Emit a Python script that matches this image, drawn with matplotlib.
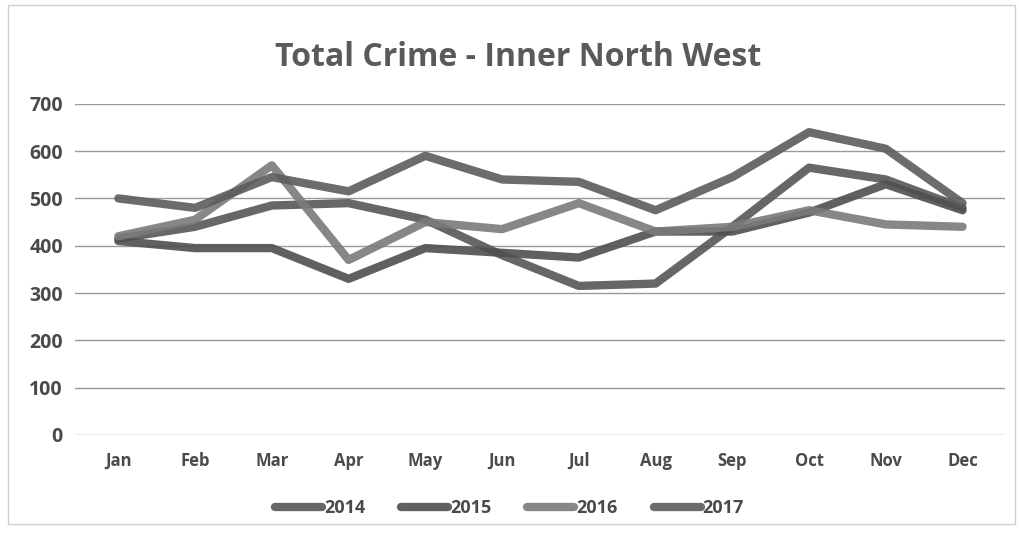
import matplotlib.pyplot as plt
from matplotlib.patches import Rectangle

plt.rcParams['font.family'] = ['Open Sans', 'DejaVu Sans']

# Data
months = ["Jan", "Feb", "Mar", "Apr", "May", "Jun", "Jul", "Aug", "Sep", "Oct", "Nov", "Dec"]
crime_2014 = [415, 440, 485, 490, 455, 380, 315, 320, 440, 565, 540, 480]
crime_2015 = [410, 395, 395, 330, 395, 385, 375, 430, 430, 470, 530, 475]
crime_2016 = [420, 455, 570, 370, 450, 435, 490, 430, 440, 475, 445, 440]
crime_2017 = [500, 480, 545, 515, 590, 540, 535, 475, 545, 640, 605, 490]

series = [("2014", crime_2014, "#565656"),
          ("2015", crime_2015, "#4f4f4f"),
          ("2016", crime_2016, "#7a7a7a"),
          ("2017", crime_2017, "#5c5c5c")]

fig = plt.figure(figsize=(10.19, 5.35), dpi=100)
ax = fig.add_axes([0.074, 0.187, 0.912, 0.619])

x = range(len(months))
for name, vals, col in series:
    ax.plot(x, vals, color=col, linewidth=6, alpha=0.9, label=name,
            solid_capstyle="round", solid_joinstyle="round")

ax.set_ylim(0, 700)
ax.set_xlim(-0.56, 11.55)
ax.set_yticks(range(0, 701, 100))
ax.set_xticks(list(x))
ax.set_xticklabels(months)
ax.grid(axis="y", color="#9a9a9a", linewidth=1.0)
ax.set_axisbelow(True)
for s in ax.spines.values():
    s.set_visible(False)
ax.tick_params(length=0, labelsize=12, colors="#4a4a4a")
ax.tick_params(axis="y", labelsize=14, pad=9)
ax.tick_params(axis="x", pad=12)
for lab in ax.get_xticklabels() + ax.get_yticklabels():
    lab.set_fontweight("bold")

fig.text(0.508, 0.893, "Total Crime - Inner North West", ha="center", va="center",
         fontsize=23, fontweight="bold", color="#5a5a5a")

leg = fig.legend(loc="center", bbox_to_anchor=(0.5, 0.05), ncol=4, frameon=False,
                 fontsize=13, handlelength=2.6, handletextpad=0.1, columnspacing=2.0,
                 labelcolor="#4a4a4a")
for t in leg.get_texts():
    t.set_fontweight("bold")

fig.patches.append(Rectangle((0.008, 0.02), 0.988, 0.97, transform=fig.transFigure,
                             fill=False, edgecolor="#cfcfcf", linewidth=1))

fig.savefig("out.png", dpi=100, facecolor="white")
